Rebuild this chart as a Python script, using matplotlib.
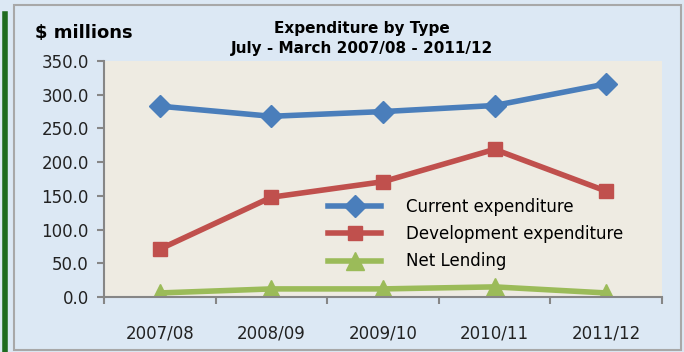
import matplotlib.pyplot as plt
from matplotlib.patches import Rectangle
from matplotlib.lines import Line2D
import numpy as np

years = ["2007/08", "2008/09", "2009/10", "2010/11", "2011/12"]
current_exp = [283, 268, 275, 284, 316]
development_exp = [71, 148, 171, 219, 157]
net_lending = [6, 12, 12, 15, 6]
y_ticks = [0, 50, 100, 150, 200, 250, 300, 350]

W, H = 684, 352
plt.rcParams["font.family"] = ["DejaVu Sans"]

fig = plt.figure(figsize=(W / 100, H / 100), dpi=100)
fig.patch.set_facecolor("#DCE8F4")


def fx(px):
    return px / W


def fy(py):
    return 1 - py / H


# outer border and green side bar
fig.patches.append(Rectangle((fx(14), fy(350)), fx(667), 345 / H, transform=fig.transFigure,
                             fill=False, edgecolor="#A8A8A8", linewidth=1.5))
fig.lines.append(Line2D([fx(5), fx(5)], [fy(14), fy(352)], transform=fig.transFigure,
                        color="#1F6B1F", linewidth=4))

ax = fig.add_axes([fx(104), fy(297), fx(662) - fx(104), (297 - 61) / H])
ax.set_facecolor("#EEEBE2")

x = np.arange(len(years))
ax.plot(x, current_exp, color="#4A7EBB", lw=4, marker="D", ms=11, label="Current expenditure")
ax.plot(x, development_exp, color="#C0504D", lw=4, marker="s", ms=10, label="Development expenditure")
ax.plot(x, net_lending, color="#9BBB59", lw=4, marker="^", ms=13, label="Net Lending")

ax.set_xlim(-0.5, len(years) - 0.5)
ax.set_ylim(0, 350)
ax.set_yticks(y_ticks)
ax.set_yticklabels([f"{v:.1f}" for v in y_ticks], fontsize=12, color="#222222")
ax.set_xticks(x)
ax.set_xticklabels(years, fontsize=12, color="#222222")
ax.set_xticks(np.arange(-0.5, len(years)), minor=True)
ax.tick_params(axis="x", which="major", length=0, pad=20)
ax.tick_params(axis="x", which="minor", length=5, width=1.5, color="#868686", direction="out")
ax.tick_params(axis="y", length=5, width=1.5, color="#868686", pad=6)
for s in ["top", "right"]:
    ax.spines[s].set_visible(False)
for s in ["left", "bottom"]:
    ax.spines[s].set_color("#868686")
    ax.spines[s].set_linewidth(1.5)

fig.text(fx(35), fy(33), "$ millions", fontsize=13, fontweight="bold", va="center", ha="left")
fig.text(fx(362), fy(28), "Expenditure by Type", fontsize=11, fontweight="bold", ha="center", va="center")
fig.text(fx(362), fy(49), "July - March 2007/08 - 2011/12", fontsize=11, fontweight="bold", ha="center", va="center")

fig.legend(loc="upper left", bbox_to_anchor=(fx(313), fy(183)), frameon=False, fontsize=12,
           handlelength=3.2, handletextpad=1.5, labelspacing=0.55)

fig.savefig("out.png", dpi=100, facecolor=fig.get_facecolor())
